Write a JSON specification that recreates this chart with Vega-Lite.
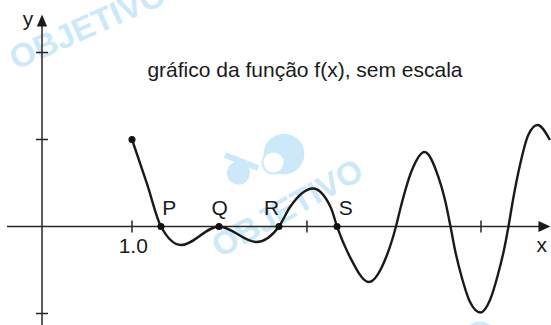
{
  "$schema": "https://vega.github.io/schema/vega-lite/v6.json",
  "width": 551,
  "height": 325,
  "autosize": {"type": "fit", "contains": "padding"},
  "padding": 0,
  "background": "white",
  "view": {"stroke": null},
  "config": {"font": "Liberation Sans"},
  "datasets": {
    "curve": [
      {"u": 1.0, "v": 1.0},
      {"u": 1.167, "v": 0.489},
      {"u": 1.322, "v": 0},
      {"u": 1.544, "v": -0.213},
      {"u": 1.967, "v": 0},
      {"u": 2.383, "v": -0.178},
      {"u": 2.633, "v": 0},
      {"u": 2.756, "v": 0.224},
      {"u": 3.011, "v": 0.437},
      {"u": 3.211, "v": 0.213},
      {"u": 3.278, "v": 0},
      {"u": 3.422, "v": -0.351},
      {"u": 3.633, "v": -0.638},
      {"u": 3.833, "v": -0.328},
      {"u": 3.933, "v": 0},
      {"u": 3.978, "v": 0.19},
      {"u": 4.111, "v": 0.649},
      {"u": 4.25, "v": 0.856},
      {"u": 4.403, "v": 0.572},
      {"u": 4.478, "v": 0.305},
      {"u": 4.539, "v": 0},
      {"u": 4.589, "v": -0.27},
      {"u": 4.663, "v": -0.58},
      {"u": 4.756, "v": -0.868},
      {"u": 4.872, "v": -0.989},
      {"u": 4.978, "v": -0.845},
      {"u": 5.07, "v": -0.538},
      {"u": 5.133, "v": -0.27},
      {"u": 5.183, "v": 0},
      {"u": 5.237, "v": 0.328},
      {"u": 5.311, "v": 0.707},
      {"u": 5.403, "v": 1.052},
      {"u": 5.506, "v": 1.167},
      {"u": 5.644, "v": 0.994}
    ],
    "dots": [
      {"u": 1.0, "v": 1.0},
      {"u": 1.322, "v": 0},
      {"u": 1.967, "v": 0},
      {"u": 2.633, "v": 0},
      {"u": 3.278, "v": 0}
    ],
    "axes": [
      {"u": -0.389, "u2": 5.55, "v": 0, "v2": 0},
      {"u": 0, "u2": 0, "v": -1.14, "v2": 2.35}
    ],
    "xticks": [
      {"u": 1.0, "v": 0},
      {"u": 2.944, "v": 0},
      {"u": 4.878, "v": 0}
    ],
    "yticks": [
      {"u": 0, "v": 2},
      {"u": 0, "v": 1},
      {"u": 0, "v": -1}
    ],
    "yarrow": [{"u": 0, "v": 2.368}],
    "xarrow": [{"u": 5.583, "v": 0}],
    "labels": [
      {"u": 1.413, "v": 0.132, "t": "P"},
      {"u": 1.974, "v": 0.132, "t": "Q"},
      {"u": 2.55, "v": 0.132, "t": "R"},
      {"u": 3.376, "v": 0.132, "t": "S"},
      {"u": 1.014, "v": -0.305, "t": "1.0"},
      {"u": 5.552, "v": -0.29, "t": "x"},
      {"u": -0.156, "v": 2.306, "t": "y"},
      {"u": 2.922, "v": 1.715, "t": "gráfico da função f(x), sem escala"}
    ],
    "wm1": [{"u": 0.511, "v": 2.29, "t": "OBJETIVO"}],
    "wm2": [{"u": 2.733, "v": 0.2, "t": "OBJETIVO"}],
    "wmbar": [{"u": 2.033, "u2": 2.4, "v": 0.822, "v2": 0.672}],
    "wmcircles": [
      {"u": 2.689, "v": 0.833, "k": "big"},
      {"u": 2.183, "v": 0.615, "k": "small"}
    ],
    "wminner": [{"u": 2.572, "v": 0.736}],
    "wmbottom": [{"u": 4.867, "v": -1.3}]
  },
  "layer": [
    {
      "data": {"name": "wm1"},
      "mark": {"type": "text", "clip": true, "angle": -24, "fontSize": 33, "fontWeight": "bold", "font": "Liberation Sans", "color": "#cce9fa", "align": "center", "baseline": "middle"},
      "encoding": {
        "x": {"field": "u", "type": "quantitative", "scale": {"domain": [-0.4667, 5.6556], "nice": false, "zero": false}, "axis": null},
        "y": {"field": "v", "type": "quantitative", "scale": {"domain": [-1.1322, 2.6034], "nice": false, "zero": false}, "axis": null},
        "text": {"field": "t"}
      }
    },
    {
      "data": {"name": "wm2"},
      "mark": {"type": "text", "clip": true, "angle": -29, "fontSize": 33, "fontWeight": "bold", "font": "Liberation Sans", "color": "#cce9fa", "align": "center", "baseline": "middle"},
      "encoding": {
        "x": {"field": "u", "type": "quantitative"},
        "y": {"field": "v", "type": "quantitative"},
        "text": {"field": "t"}
      }
    },
    {
      "data": {"name": "wmbar"},
      "mark": {"type": "rule", "clip": true, "color": "#cce9fa", "strokeWidth": 6},
      "encoding": {
        "x": {"field": "u", "type": "quantitative"},
        "x2": {"field": "u2"},
        "y": {"field": "v", "type": "quantitative"},
        "y2": {"field": "v2"}
      }
    },
    {
      "data": {"name": "wmcircles"},
      "mark": {"type": "point", "shape": "circle", "filled": true, "clip": true, "color": "#cce9fa", "opacity": 1},
      "encoding": {
        "x": {"field": "u", "type": "quantitative"},
        "y": {"field": "v", "type": "quantitative"},
        "size": {"field": "k", "type": "nominal", "scale": {"domain": ["big", "small"], "range": [1660, 530]}, "legend": null}
      }
    },
    {
      "data": {"name": "wminner"},
      "mark": {"type": "point", "shape": "circle", "filled": true, "clip": true, "fill": "#ffffff", "stroke": "#cce9fa", "strokeWidth": 2, "opacity": 1, "fillOpacity": 1, "size": 490},
      "encoding": {
        "x": {"field": "u", "type": "quantitative"},
        "y": {"field": "v", "type": "quantitative"}
      }
    },
    {
      "data": {"name": "wmbottom"},
      "mark": {"type": "point", "shape": "circle", "filled": true, "clip": true, "color": "#cce9fa", "opacity": 1, "size": 1300},
      "encoding": {
        "x": {"field": "u", "type": "quantitative"},
        "y": {"field": "v", "type": "quantitative"}
      }
    },
    {
      "data": {"name": "axes"},
      "mark": {"type": "rule", "clip": true, "color": "#262626", "strokeWidth": 1.5},
      "encoding": {
        "x": {"field": "u", "type": "quantitative"},
        "x2": {"field": "u2"},
        "y": {"field": "v", "type": "quantitative"},
        "y2": {"field": "v2"}
      }
    },
    {
      "data": {"name": "xticks"},
      "mark": {"type": "tick", "orient": "vertical", "size": 12, "thickness": 1.5, "color": "#262626", "opacity": 1, "clip": true},
      "encoding": {
        "x": {"field": "u", "type": "quantitative"},
        "y": {"field": "v", "type": "quantitative"}
      }
    },
    {
      "data": {"name": "yticks"},
      "mark": {"type": "tick", "orient": "horizontal", "size": 12, "thickness": 1.5, "color": "#262626", "opacity": 1, "clip": true},
      "encoding": {
        "x": {"field": "u", "type": "quantitative"},
        "y": {"field": "v", "type": "quantitative"}
      }
    },
    {
      "data": {"name": "yarrow"},
      "mark": {"type": "point", "shape": "M -0.85 1 L 0.85 1 L 0 -1 Z", "size": 144, "filled": true, "color": "#1a1a1a", "opacity": 1, "clip": true},
      "encoding": {
        "x": {"field": "u", "type": "quantitative"},
        "y": {"field": "v", "type": "quantitative"}
      }
    },
    {
      "data": {"name": "xarrow"},
      "mark": {"type": "point", "shape": "M -1 -0.9 L 1 0 L -1 0.9 Z", "size": 144, "filled": true, "color": "#1a1a1a", "opacity": 1, "clip": true},
      "encoding": {
        "x": {"field": "u", "type": "quantitative"},
        "y": {"field": "v", "type": "quantitative"}
      }
    },
    {
      "data": {"name": "curve"},
      "mark": {"type": "line", "interpolate": "monotone", "strokeWidth": 2.4, "color": "#1a1a1a", "clip": true},
      "encoding": {
        "x": {"field": "u", "type": "quantitative"},
        "y": {"field": "v", "type": "quantitative"}
      }
    },
    {
      "data": {"name": "dots"},
      "mark": {"type": "point", "shape": "circle", "filled": true, "size": 50, "color": "#111111", "opacity": 1, "clip": true},
      "encoding": {
        "x": {"field": "u", "type": "quantitative"},
        "y": {"field": "v", "type": "quantitative"}
      }
    },
    {
      "data": {"name": "labels"},
      "mark": {"type": "text", "fontSize": 21, "font": "Liberation Sans", "color": "#1a1a1a", "align": "center", "baseline": "alphabetic", "clip": true},
      "encoding": {
        "x": {"field": "u", "type": "quantitative"},
        "y": {"field": "v", "type": "quantitative"},
        "text": {"field": "t"}
      }
    }
  ]
}
